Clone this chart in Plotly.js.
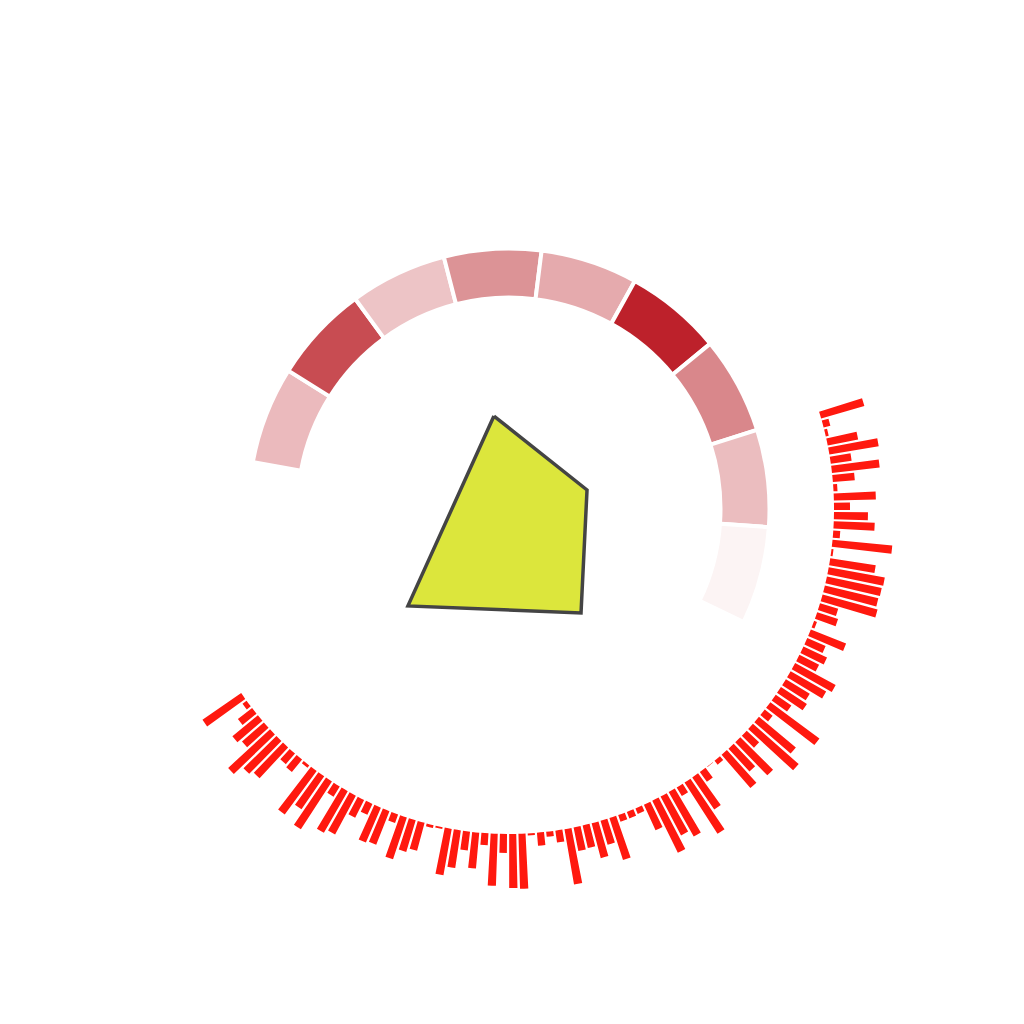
<!DOCTYPE html>
<html>
<head>
<meta charset="utf-8">
<script src="https://cdn.plot.ly/plotly-3.0.1.min.js"></script>
<style>html,body{margin:0;padding:0;background:#fff}#chart{width:1024px;height:1024px}</style>
</head>
<body>
<div id="chart"></div>
<script>
// ---- data ----
// outer ring segments (clockwise from the left end)
const ringColors = ['#ebbabd','#c84c52','#edc4c6','#dc9396','#e5aaad','#bd212b','#d9878b','#ebbdbf','#fcf4f4'];
const ringR = [49, 49, 49, 49, 49, 49, 49, 49, 49];
const ringBase = 211.5;
const ringTheta0 = 158.75;
const ringDTheta = -21.7;

// red spikes (clockwise from the upper-right end)
const spikeR = [
  45, 7, 3, 31, 50, 21, 48, 22, 4, 42,
  16, 34, 41, 7, 60, 2, 46, 57, 56, 55,
  57, 19, 22, 3, 38, 20, 26, 22, 46, 41,
  28, 31, 19, 61, 10, 48, 61, 17, 46, 31,
  44, 5, 0.5, 12, 39, 61, 10, 51, 44, 58,
  28, 6, 7, 7, 44, 25, 36, 23, 24, 56,
  12, 5, 13, 2, 55, 54, 19, 52, 12, 36,
  19, 38, 47, 2, 3, 29, 33, 44, 9, 36,
  38, 12, 20, 44, 48, 12, 57, 40, 54, 3,
  16, 14, 42, 46, 57, 29, 33, 18, 5, 47
];
const spikeBase = 325;
const spikeTheta0 = 16.8;
const spikeDTheta = -1.633;

// yellow polygon
const polyR = [94.2, 80.3, 126.5, 140, 94.2];
const polyTheta = [99.2, 13.7, -55.3, -136.2, 99.2];

const data = [
  {
    type: 'barpolar',
    r: ringR,
    base: ringBase,
    theta0: ringTheta0,
    dtheta: ringDTheta,
    width: 21.7,
    marker: {color: ringColors, line: {color: '#ffffff', width: 4}},
    hoverinfo: 'skip'
  },
  {
    type: 'barpolar',
    r: spikeR,
    base: spikeBase,
    theta0: spikeTheta0,
    dtheta: spikeDTheta,
    width: 1.25,
    marker: {color: 'rgb(255,25,15)', line: {width: 0}},
    hoverinfo: 'skip'
  },
  {
    type: 'scatterpolar',
    r: polyR,
    theta: polyTheta,
    mode: 'lines',
    fill: 'toself',
    fillcolor: '#dce63c',
    line: {color: '#444444', width: 3.5},
    hoverinfo: 'skip'
  }
];

const layout = {
  width: 1024,
  height: 1024,
  margin: {l: 0, r: 6, t: 0, b: 6},
  paper_bgcolor: '#ffffff',
  showlegend: false,
  polar: {
    domain: {x: [0, 1], y: [0, 1]},
    bgcolor: 'rgba(0,0,0,0)',
    radialaxis: {visible: false, range: [0, 509]},
    angularaxis: {visible: false}
  }
};

Plotly.newPlot('chart', data, layout, {displayModeBar: false, staticPlot: true});
</script>
</body>
</html>
